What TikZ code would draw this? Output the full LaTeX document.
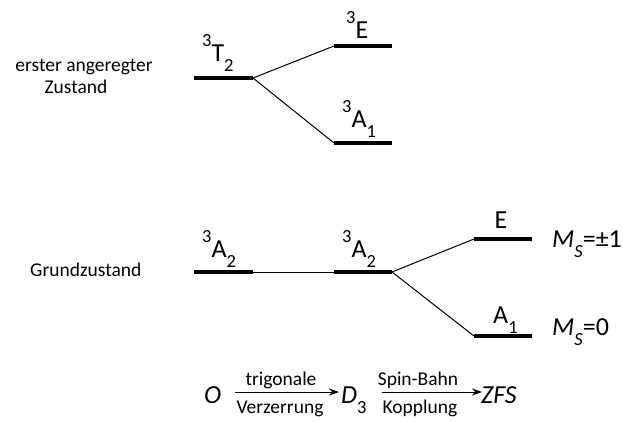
\documentclass[tikz,border=0pt]{standalone}
\usepackage{fontspec}
\setmainfont{Carlito}
\usetikzlibrary{arrows.meta}
\newcommand{\sP}[1]{\raisebox{15pt}{\fontsize{18.5}{18.5}\selectfont #1}}
\newcommand{\sB}[1]{\raisebox{-10pt}{\fontsize{18.5}{18.5}\selectfont #1}}
\begin{document}
\begin{tikzpicture}[x=1pt,y=-1pt,
  lvl/.style={line width=4pt},
  conn/.style={line width=1pt},
  big/.style={font=\fontsize{26}{28}\selectfont, inner sep=0pt},
  small/.style={font=\fontsize{19.5}{22}\selectfont, inner sep=0pt},
  arr/.style={line width=1pt,-{Stealth[length=10pt,width=7pt]}}]
\useasboundingbox (0,0) rectangle (623,421);
% excited state
\coordinate (t2l) at (194,78); \coordinate (t2r) at (253,78);
\coordinate (e3l) at (334,46); \coordinate (e3r) at (392,46);
\coordinate (a1l) at (334,143); \coordinate (a1r) at (392,143);
\draw[lvl] (t2l) -- (t2r);
\draw[lvl] (e3l) -- (e3r);
\draw[lvl] (a1l) -- (a1r);
\draw[conn] (t2r) -- (e3l);
\draw[conn] (t2r) -- (a1l);
% ground state
\coordinate (g1l) at (194,272); \coordinate (g1r) at (253,272);
\coordinate (g2l) at (334,272); \coordinate (g2r) at (392,272);
\coordinate (gel) at (474,239); \coordinate (ger) at (532,239);
\coordinate (gal) at (474,336); \coordinate (gar) at (532,336);
\draw[lvl] (g1l) -- (g1r);
\draw[lvl] (g2l) -- (g2r);
\draw[lvl] (gel) -- (ger);
\draw[lvl] (gal) -- (gar);
\draw[conn] (g1r) -- (g2l);
\draw[conn] (g2r) -- (gel);
\draw[conn] (g2r) -- (gal);
% labels
\node[big,anchor=base west] (lT2) at (202,61) {\sP{3}T\sB{2}};
\node[big,anchor=base west] (lE) at (346,38) {\sP{3}E};
\node[big,anchor=base west] (lA1) at (342,127) {\sP{3}A\sB{1}};
\node[big,anchor=base west] (lA2a) at (202,257) {\sP{3}A\sB{2}};
\node[big,anchor=base west] (lA2b) at (342,257) {\sP{3}A\sB{2}};
\node[big,anchor=base] (lEg) at (501,228) {E};
\node[big,anchor=base west] (lA1g) at (493,323) {A\sB{1}};
\node[big,anchor=base west] (ms1) at (552,247) {\textit{M}\sB{\textit{S}}=±1};
\node[big,anchor=base west] (ms0) at (552,335) {\textit{M}\sB{\textit{S}}=0};
\node[small,anchor=base] (ex1) at (84,71) {erster angeregter};
\node[small,anchor=base] (ex2) at (76,93) {Zustand};
\node[small,anchor=base west] (gz) at (30,276) {Grundzustand};
% bottom scheme
\node[big,anchor=base west] (O) at (204,403) {\textit{O}};
\node[big,anchor=base west] (D3) at (341,403) {\textit{D}\sB{3}};
\node[big,anchor=base west] (ZFS) at (481,403) {\textit{ZFS}};
\coordinate (a1s) at (235,392); \coordinate (a1e) at (339,392);
\coordinate (a2s) at (382,392); \coordinate (a2e) at (482,392);
\draw[arr] (a1s) -- (a1e);
\draw[arr] (a2s) -- (a2e);
\node[small,anchor=base] (tr) at (281,385) {trigonale};
\node[small,anchor=base] (vz) at (280,413) {Verzerrung};
\node[small,anchor=base] (sb) at (418,385) {Spin-Bahn};
\node[small,anchor=base] (kp) at (420,413) {Kopplung};
\end{tikzpicture}
\end{document}
